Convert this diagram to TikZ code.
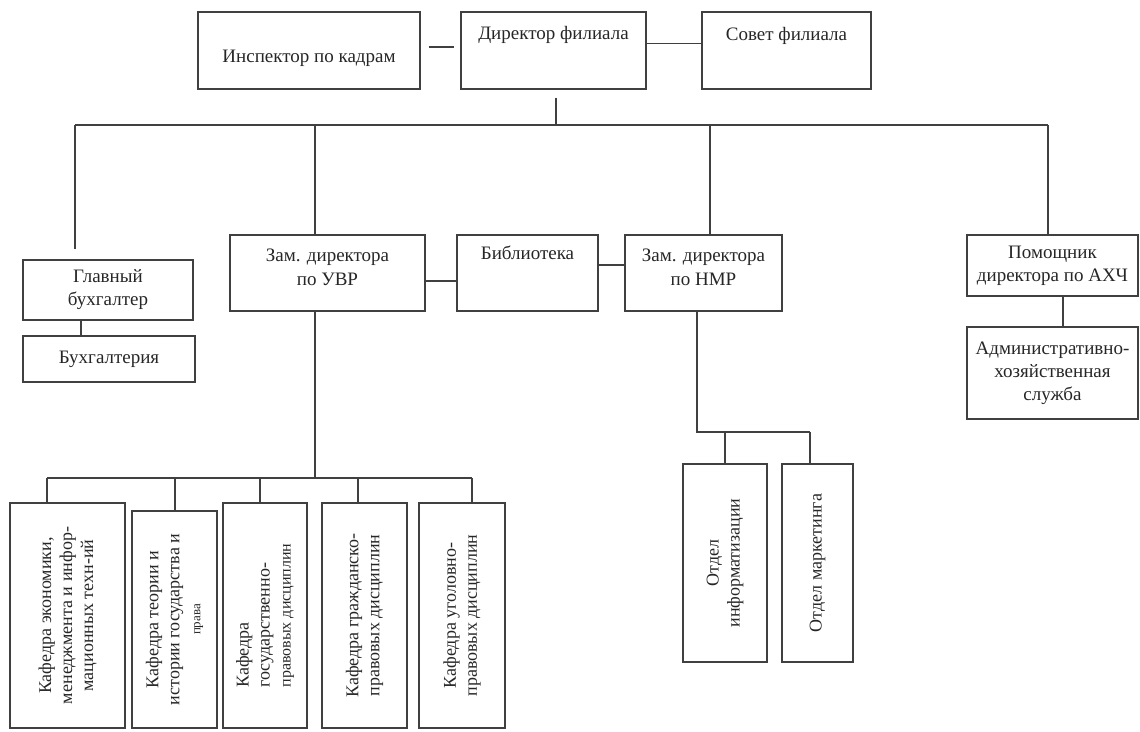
\documentclass[tikz,border=0pt]{standalone}
\usepackage{fontspec}
\setmainfont{Liberation Serif}

\tikzset{
  box/.style={draw=black!75, line width=1.1pt, shape=rectangle, align=center, inner sep=2pt, text=black!85, font=\fontsize{19}{23}\selectfont},
  vbox/.style={box, rotate=90, font=\fontsize{18}{21}\selectfont},
  toptext/.style={anchor=north, align=center, inner sep=2pt, text=black!85, font=\fontsize{19}{24}\selectfont},
  link/.style={draw=black!75, line width=1.1pt}
}

\begin{document}
\begin{tikzpicture}[x=1pt, y=-1pt]
\useasboundingbox (0,0) rectangle (1140,731);

\node[box, minimum width=222pt, minimum height=77pt, label={[toptext, yshift=-36pt]90:Инспектор по кадрам}] (insp) at (309,50.5) {};
\node[box, minimum width=185pt, minimum height=77pt, label={[toptext, yshift=-13pt]90:Директор филиала}] (dir) at (553.5,50.5) {};
\node[box, minimum width=169pt, minimum height=77pt, label={[toptext, yshift=-14pt]90:Совет филиала}] (sovet) at (786.5,50.5) {};

\node[box, minimum width=170pt, minimum height=60pt] (glav) at (108,290) {Главный\\бухгалтер};
\node[box, minimum width=172pt, minimum height=46pt] (buh) at (109,359) {Бухгалтерия};
\node[box, minimum width=195pt, minimum height=76pt, label={[toptext, yshift=-12pt]90:Зам. директора\\по УВР}] (uvr) at (327.5,273) {};
\node[box, minimum width=141pt, minimum height=76pt, label={[toptext, yshift=-9pt]90:Библиотека}] (lib) at (527.5,273) {};
\node[box, minimum width=157pt, minimum height=76pt, label={[toptext, yshift=-12pt]90:Зам. директора\\по НМР}] (nmr) at (703.5,273) {};
\node[box, minimum width=171pt, minimum height=61pt] (pom) at (1052.5,265.5) {Помощник\\директора по АХЧ};
\node[box, minimum width=171pt, minimum height=92pt] (adm) at (1052.5,373) {Административно-\\хозяйственная\\служба};

\node[vbox, minimum width=225pt, minimum height=115pt] (kaf1) at (67.5,615.5) {Кафедра экономики,\\менеджмента и инфор-\\мационных техн-ий};
\node[vbox, minimum width=217pt, minimum height=85pt] (kaf2) at (174.5,619.5) {Кафедра теории и\\истории государства и\\{\fontsize{13}{15}\selectfont права}};
\node[vbox, align=left, minimum width=225pt, minimum height=84pt] (kaf3) at (265,615.5) {Кафедра\\государственно-\\{\fontsize{16}{18}\selectfont правовых дисциплин}};
\node[vbox, minimum width=225pt, minimum height=85pt] (kaf4) at (364.5,615.5) {Кафедра гражданско-\\правовых дисциплин};
\node[vbox, minimum width=225pt, minimum height=86pt] (kaf5) at (462,615.5) {Кафедра уголовно-\\правовых дисциплин};

\node[vbox, minimum width=198pt, minimum height=84pt] (inf) at (725,563) {Отдел\\информатизации};
\node[vbox, minimum width=198pt, minimum height=71pt] (mark) at (817.5,563) {Отдел маркетинга};

\coordinate (b1) at (75,125);
\coordinate (b2) at (315,125);
\coordinate (b3) at (710,125);
\coordinate (b4) at (1048,125);
\coordinate (k0) at (315,478);
\coordinate (k1) at (47,478);
\coordinate (k2) at (175,478);
\coordinate (k3) at (260,478);
\coordinate (k4) at (358,478);
\coordinate (k5) at (472,478);
\coordinate (o0) at (697,432);
\coordinate (o1) at (725,432);
\coordinate (o2) at (810,432);

\draw[link, shorten <=8pt, shorten >=6pt] ([yshift=3.5pt]insp.east) -- ([yshift=3.5pt]dir.west);
\draw[link] ([yshift=7pt]dir.east) -- ([yshift=7pt]sovet.west);
\draw[link, shorten <=8pt] ([xshift=2.5pt]dir.south) -- ([xshift=2.5pt]dir.south |- b1);

\draw[link] (b1) -- (b4);
\draw[link, shorten >=10pt] (b1) -- (b1 |- glav.north);
\draw[link] (b2) -- (b2 |- uvr.north);
\draw[link] (b3) -- (b3 |- nmr.north);
\draw[link] (b4) -- (b4 |- pom.north);

\draw[link] ([xshift=-27pt]glav.south) -- ([xshift=-27pt]glav.south |- buh.north);
\draw[link] ([yshift=-8pt]uvr.east) -- ([yshift=-8pt]lib.west);
\draw[link] ([yshift=8pt]lib.east) -- ([yshift=8pt]nmr.west);
\draw[link] ([xshift=10.5pt]pom.south) -- ([xshift=10.5pt]pom.south |- adm.north);

\draw[link] (uvr.south -| k0) -- (k0);
\draw[link] (k1) -- (k5);
\draw[link] (k1) -- (k1 |- kaf1.east);
\draw[link] (k2) -- (k2 |- kaf2.east);
\draw[link] (k3) -- (k3 |- kaf3.east);
\draw[link] (k4) -- (k4 |- kaf4.east);
\draw[link] (k5) -- (k5 |- kaf5.east);

\draw[link] (nmr.south -| o0) -- (o0) -- (o2);
\draw[link] (o1) -- (o1 |- inf.east);
\draw[link] (o2) -- (o2 |- mark.east);

\end{tikzpicture}
\end{document}
